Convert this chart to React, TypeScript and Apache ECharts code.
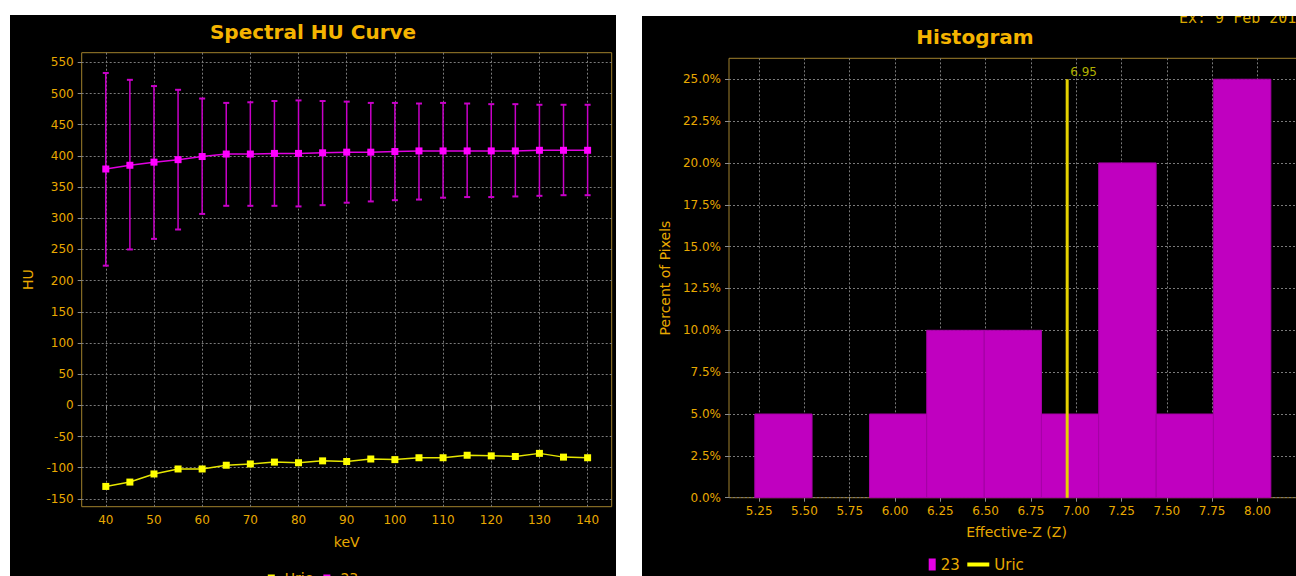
import React, { useEffect, useRef } from "react";
import * as echarts from "echarts";

// ---------- Spectral HU Curve data ----------
const keV = [40, 45, 50, 55, 60, 65, 70, 75, 80, 85, 90, 95, 100, 105, 110, 115, 120, 125, 130, 135, 140];
const uricHU = [-130, -123, -110, -102, -102, -96, -94, -91, -92, -89, -90, -86, -87, -84, -84, -80, -81, -82, -77, -83, -84];
const sampleHU = [379, 385, 390, 394, 399, 403, 403, 404, 404, 405, 406, 406, 407, 408, 408, 408, 408, 408, 409, 409, 409];
const sampleHigh = [533, 522, 512, 506, 492, 485, 486, 488, 489, 488, 487, 485, 485, 484, 485, 484, 483, 483, 482, 482, 482];
const sampleLow = [224, 250, 267, 282, 307, 320, 320, 320, 319, 321, 325, 327, 329, 330, 333, 334, 334, 335, 336, 337, 337];
const keVTicks = [40, 50, 60, 70, 80, 90, 100, 110, 120, 130, 140];
const huTicks = [-150, -100, -50, 0, 50, 100, 150, 200, 250, 300, 350, 400, 450, 500, 550];

// ---------- Histogram data ----------
const binEdges = [5.226, 5.542, 5.859, 6.175, 6.492, 6.808, 7.124, 7.441, 7.757, 8.074];
const binPercent = [5, 0, 5, 10, 10, 5, 20, 5, 25];
const zTicks = [5.25, 5.5, 5.75, 6.0, 6.25, 6.5, 6.75, 7.0, 7.25, 7.5, 7.75, 8.0];
const pctTicks = [0, 2.5, 5, 7.5, 10, 12.5, 15, 17.5, 20, 22.5, 25];
const uricZ = 6.95;
const uricZTop = 25;

const FONT = "DejaVu Sans";
const GOLD = "#e8a900";
const TITLE = "#f5b400";
const GRIDLINE = "#7a7a7a";
const BORDER = "#a0802c";

function leftOption(): any {
  return {
    animation: false,
    backgroundColor: "#000",
    textStyle: { fontFamily: FONT },
    title: {
      text: "Spectral HU Curve",
      left: "center",
      top: 2,
      textStyle: { color: TITLE, fontSize: 20, fontWeight: "bold", fontFamily: FONT },
    },
    legend: {
      top: 551,
      left: "center",
      itemWidth: 17,
      itemHeight: 7,
      itemGap: 11,
      symbolKeepAspect: true,
      textStyle: { color: GOLD, fontSize: 14, fontFamily: FONT },
      data: [
        { name: "Uric", icon: "path://M0,0H7V7H0Z", itemStyle: { color: "#ffff00" } },
        { name: "23", icon: "path://M0,0H7V7H0Z", itemStyle: { color: "#ff00ff" } },
      ],
    },
    grid: {
      left: 71.7,
      top: 37.7,
      width: 530,
      height: 454,
      show: true,
      borderColor: BORDER,
      borderWidth: 1,
      backgroundColor: "transparent",
      outerBoundsMode: "none",
    },
    xAxis: {
      type: "value",
      min: 35,
      max: 145,
      name: "keV",
      nameLocation: "middle",
      nameGap: 28,
      nameTextStyle: { color: GOLD, fontSize: 14, fontFamily: FONT },
      axisLine: { show: false },
      axisTick: { show: true, length: 4, customValues: keVTicks, lineStyle: { color: "#8c8c8c" } },
      axisLabel: { customValues: keVTicks, color: GOLD, fontSize: 12, fontFamily: FONT, margin: 7 },
      splitLine: { show: true, lineStyle: { color: GRIDLINE, type: [2, 2], width: 1 } },
    },
    yAxis: {
      type: "value",
      min: -162.5,
      max: 565.5,
      name: "HU",
      nameLocation: "middle",
      nameGap: 47,
      nameTextStyle: { color: GOLD, fontSize: 14, fontFamily: FONT },
      axisLine: { show: false },
      axisTick: { show: true, length: 4, customValues: huTicks, lineStyle: { color: "#8c8c8c" } },
      axisLabel: { customValues: huTicks, color: GOLD, fontSize: 12, fontFamily: FONT, margin: 8 },
      splitLine: { show: true, lineStyle: { color: GRIDLINE, type: [2, 2], width: 1 } },
    },
    series: [
      {
        name: "Uric",
        type: "line",
        data: keV.map((k, i) => [k, uricHU[i]]),
        symbol: "rect",
        symbolSize: 7,
        itemStyle: { color: "#ffff00" },
        lineStyle: { color: "#e6e600", width: 1.5 },
        z: 3,
      },
      {
        name: "23",
        type: "custom",
        data: keV.map((k, i) => [k, sampleLow[i], sampleHigh[i]]),
        encode: { x: 0, y: [1, 2] },
        z: 2,
        renderItem: (_params: any, api: any) => {
          const x = api.value(0);
          const lo = api.coord([x, api.value(1)]);
          const hi = api.coord([x, api.value(2)]);
          const cap = 3;
          const style = { stroke: "#c800c8", lineWidth: 1.5 };
          return {
            type: "group",
            children: [
              { type: "line", shape: { x1: lo[0], y1: lo[1], x2: hi[0], y2: hi[1] }, style },
              { type: "line", shape: { x1: lo[0] - cap, y1: lo[1], x2: lo[0] + cap, y2: lo[1] }, style: { stroke: "#c800c8", lineWidth: 2 } },
              { type: "line", shape: { x1: hi[0] - cap, y1: hi[1], x2: hi[0] + cap, y2: hi[1] }, style: { stroke: "#c800c8", lineWidth: 2 } },
            ],
          };
        },
      },
      {
        name: "23",
        type: "line",
        data: keV.map((k, i) => [k, sampleHU[i]]),
        symbol: "rect",
        symbolSize: 7,
        itemStyle: { color: "#ff00ff" },
        lineStyle: { color: "#e000e0", width: 1.5 },
        z: 3,
      },
    ],
  };
}

function rightOption(): any {
  return {
    animation: false,
    backgroundColor: "#000",
    textStyle: { fontFamily: FONT },
    title: {
      text: "Histogram",
      left: "center",
      top: 6,
      textStyle: { color: TITLE, fontSize: 20, fontWeight: "bold", fontFamily: FONT },
    },
    graphic: [
      {
        type: "text",
        x: 537,
        y: 9,
        style: { text: "Ex: 9 Feb 201", fill: "#d9a800", font: "15px 'DejaVu Sans Mono'", verticalAlign: "bottom" },
      },
    ],
    legend: [
      {
        top: 536,
        left: 281.7,
        itemWidth: 7,
        itemHeight: 12,
        textStyle: { color: GOLD, fontSize: 15, fontFamily: FONT },
        data: [{ name: "23", icon: "rect", itemStyle: { color: "#e600e6" } }],
      },
      {
        top: 536,
        left: 320.3,
        itemWidth: 22,
        itemHeight: 4,
        textStyle: { color: GOLD, fontSize: 15, fontFamily: FONT },
        data: [{ name: "Uric", icon: "rect", itemStyle: { color: "#ffff00" } }],
      },
    ],
    grid: {
      left: 87,
      top: 42.3,
      width: 575,
      height: 439.4,
      show: true,
      borderColor: BORDER,
      borderWidth: 1,
      backgroundColor: "transparent",
      outerBoundsMode: "none",
    },
    xAxis: {
      type: "value",
      min: 5.0836,
      max: 8.257,
      name: "Effective-Z (Z)",
      nameLocation: "middle",
      nameGap: 27,
      nameTextStyle: { color: GOLD, fontSize: 14, fontFamily: FONT },
      axisLine: { show: false },
      axisTick: { show: true, length: 4, customValues: zTicks, lineStyle: { color: "#8c8c8c" } },
      axisLabel: {
        customValues: zTicks,
        color: GOLD,
        fontSize: 12,
        fontFamily: FONT,
        margin: 7,
        formatter: (v: number) => v.toFixed(2),
      },
      splitLine: { show: true, lineStyle: { color: GRIDLINE, type: [2, 2], width: 1 } },
    },
    yAxis: {
      type: "value",
      min: 0,
      max: 26.25,
      name: "Percent of Pixels",
      nameLocation: "middle",
      nameGap: 54,
      nameTextStyle: { color: GOLD, fontSize: 14, fontFamily: FONT },
      axisLine: { show: false },
      axisTick: { show: true, length: 4, customValues: pctTicks, lineStyle: { color: "#8c8c8c" } },
      axisLabel: {
        customValues: pctTicks,
        color: GOLD,
        fontSize: 12,
        fontFamily: FONT,
        margin: 8,
        formatter: (v: number) => v.toFixed(1) + "%",
      },
      splitLine: { show: true, lineStyle: { color: GRIDLINE, type: [2, 2], width: 1 } },
    },
    series: [
      {
        name: "23",
        type: "custom",
        data: binPercent.map((p, i) => [binEdges[i], binEdges[i + 1], p]),
        encode: { x: [0, 1], y: 2 },
        z: 2,
        renderItem: (_params: any, api: any) => {
          if (!api.value(2)) return null;
          const p0 = api.coord([api.value(0), api.value(2)]);
          const p1 = api.coord([api.value(1), 0]);
          return {
            type: "rect",
            shape: { x: p0[0], y: p0[1], width: p1[0] - p0[0], height: p1[1] - p0[1] },
            style: { fill: "#c000c0", stroke: "#a600a6", lineWidth: 1 },
          };
        },
      },
      {
        name: "Uric",
        type: "line",
        data: [
          [uricZ, 0],
          [uricZ, uricZTop],
        ],
        symbol: "none",
        lineStyle: { color: "#e6d200", width: 3 },
        z: 4,
        endLabel: {
          show: true,
          formatter: String(uricZ),
          color: "#b0b000",
          fontSize: 12,
          fontFamily: FONT,
          offset: [-5, -7],
        },
      },
    ],
  };
}

export default function App() {
  const leftRef = useRef<HTMLDivElement>(null);
  const rightRef = useRef<HTMLDivElement>(null);
  useEffect(() => {
    const c1 = echarts.init(leftRef.current!, undefined, { renderer: "svg" });
    const c2 = echarts.init(rightRef.current!, undefined, { renderer: "svg" });
    c1.setOption(leftOption());
    c2.setOption(rightOption());
    return () => {
      c1.dispose();
      c2.dispose();
    };
  }, []);
  return (
    <div
      style={{
        position: "fixed",
        left: 0,
        top: 0,
        width: 1296,
        height: 576,
        overflow: "hidden",
        background: "#fff",
      }}
    >
      <div ref={leftRef} style={{ position: "absolute", left: 10, top: 15, width: 606, height: 561 }} />
      <div ref={rightRef} style={{ position: "absolute", left: 642, top: 16, width: 666, height: 560 }} />
    </div>
  );
}
